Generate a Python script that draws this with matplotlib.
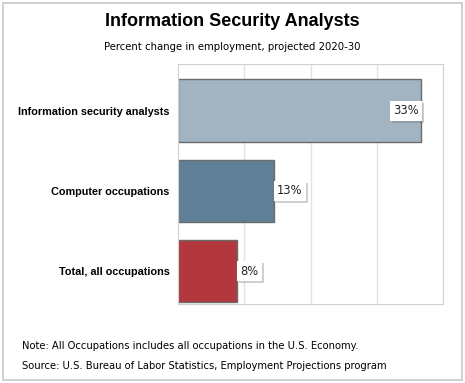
import matplotlib
matplotlib.use("Agg")
import matplotlib.pyplot as plt
from matplotlib.patches import Rectangle
import matplotlib.patheffects as pe

categories = ["Information security analysts", "Computer occupations", "Total, all occupations"]
values = [33, 13, 8]
labels = ["33%", "13%", "8%"]
colors = ["#a2b4c2", "#5f7f97", "#b2383d"]

W, H = 465, 383
fig = plt.figure(figsize=(W/100, H/100), dpi=100)
fig.patch.set_facecolor("white")

# outer border
fig.add_artist(Rectangle((3/W, 3/H), (462-3)/W, (380-3)/H, transform=fig.transFigure,
                         fill=False, edgecolor="#c8c8c8", lw=1.2))

ax = fig.add_axes([178/W, (H-304)/H, (443-178)/W, (304-64)/H])
y = list(range(len(categories)))
ax.barh(y, values, height=0.78, color=colors, edgecolor="#6b6b6b", linewidth=1.0, zorder=2)
ax.set_xlim(0, 36)
ax.set_ylim(2.41, -0.58)
ax.set_xticks([9, 18, 27])
ax.xaxis.grid(True, color="#e3e3e3", lw=1, zorder=0)
ax.tick_params(axis="x", length=0, labelbottom=False)
ax.tick_params(axis="y", length=0, pad=6)
ax.set_yticks(y)
ax.set_yticklabels(categories, fontsize=7.8, fontweight="bold", family="Liberation Sans")
for s in ax.spines.values():
    s.set_color("#d0d0d0")

for i, (v, lab) in enumerate(zip(values, labels)):
    if v > 30:
        t = ax.text(v - 0.3, i, lab, ha="right", va="center", fontsize=8.3, family="DejaVu Sans",
                    color="#222222", zorder=5,
                    bbox=dict(boxstyle="square,pad=0.3", fc="white", ec="none"))
    else:
        t = ax.text(v + 0.45, i, lab, ha="left", va="center", fontsize=8.3, family="DejaVu Sans",
                    color="#222222", zorder=5,
                    bbox=dict(boxstyle="square,pad=0.3", fc="white", ec="none"))
    t.get_bbox_patch().set_path_effects([pe.withSimplePatchShadow(offset=(1.5, -1.5), alpha=0.3, shadow_rgbFace="#666666"), pe.Normal()])

fig.text(0.5, 1 - 22/H, "Information Security Analysts", ha="center", va="center",
         fontsize=13, fontweight="bold", family="Liberation Sans")
fig.text(0.5, 1 - 47/H, "Percent change in employment, projected 2020-30", ha="center", va="center",
         fontsize=7.3, family="DejaVu Sans")
fig.text(22/W, 1 - 346/H, "Note: All Occupations includes all occupations in the U.S. Economy.",
         ha="left", va="center", fontsize=7.2, family="DejaVu Sans")
fig.text(22/W, 1 - 366/H, "Source: U.S. Bureau of Labor Statistics, Employment Projections program",
         ha="left", va="center", fontsize=7.2, family="DejaVu Sans")

fig.savefig("out.png", dpi=100)
